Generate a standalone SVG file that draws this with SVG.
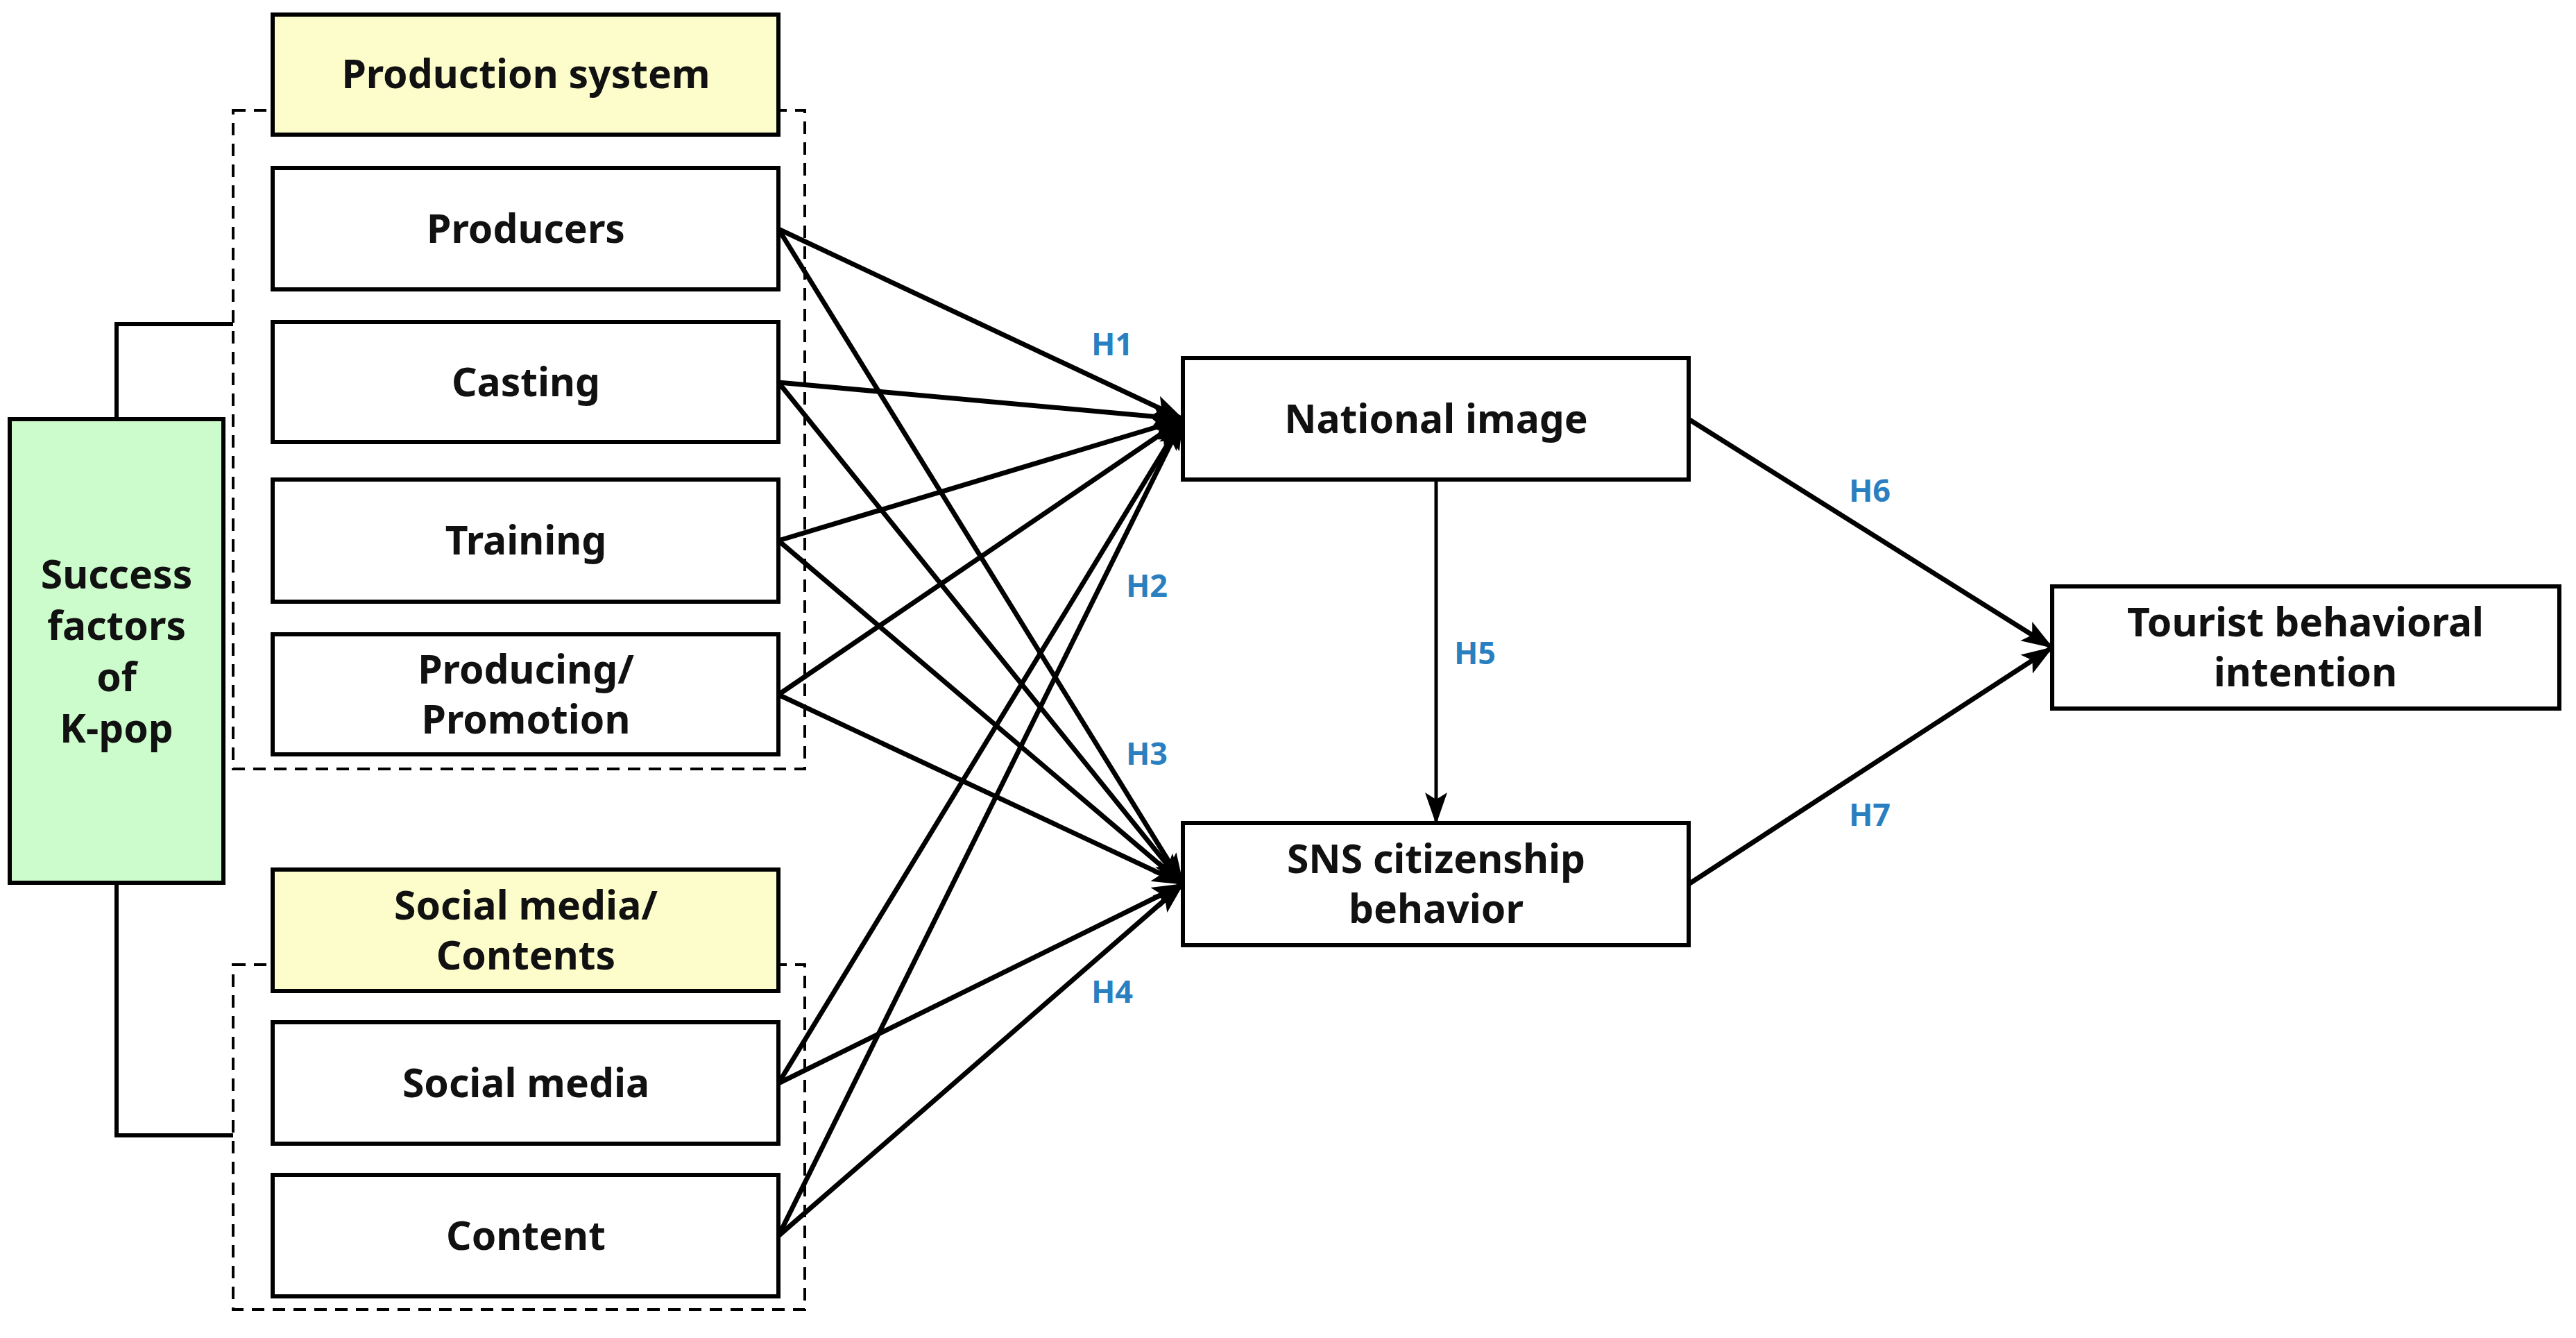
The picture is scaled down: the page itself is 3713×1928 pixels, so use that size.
<svg xmlns="http://www.w3.org/2000/svg" width="3713" height="1928" viewBox="0 0 3713 1928">
<style>
.b{fill:#fff;stroke:#000;stroke-width:6}
.y{fill:#fdfdcc;stroke:#000;stroke-width:6}
.g{fill:#ccfccc;stroke:#000;stroke-width:6}
.d{fill:none;stroke:#000;stroke-width:4;stroke-dasharray:18 12}
text{font-family:"Noto Sans","Liberation Sans",sans-serif;font-weight:bold;font-size:57px;text-anchor:middle;fill:#111}
.h{fill:#2a7fc0;font-size:45px}
.c line{stroke:#000;stroke-width:7}
.c path{fill:none;stroke:#000;stroke-width:6}
</style>
<defs>
<marker id="a" markerUnits="userSpaceOnUse" markerWidth="50" markerHeight="40" refX="44" refY="18" orient="auto" viewBox="0 0 50 36">
<path d="M0,2 L46,18 L0,34 L10,18 Z" fill="#000"/>
</marker>
</defs>
<rect class="d" x="336" y="159" width="824" height="949"/>
<rect class="d" x="336" y="1390" width="824" height="497"/>
<g class="c">
<path d="M336,467 H168 V604 M168,1272 V1636 H336"/>
<line x1="1122" y1="330" x2="1705" y2="604" marker-end="url(#a)"/>
<line x1="1122" y1="551" x2="1705" y2="604" marker-end="url(#a)"/>
<line x1="1122" y1="779" x2="1705" y2="604" marker-end="url(#a)"/>
<line x1="1122" y1="1001" x2="1705" y2="604" marker-end="url(#a)"/>
<line x1="1122" y1="1561" x2="1705" y2="604" marker-end="url(#a)"/>
<line x1="1122" y1="1781" x2="1705" y2="604" marker-end="url(#a)"/>
<line x1="1122" y1="330" x2="1705" y2="1274" marker-end="url(#a)"/>
<line x1="1122" y1="551" x2="1705" y2="1274" marker-end="url(#a)"/>
<line x1="1122" y1="779" x2="1705" y2="1274" marker-end="url(#a)"/>
<line x1="1122" y1="1001" x2="1705" y2="1274" marker-end="url(#a)"/>
<line x1="1122" y1="1561" x2="1705" y2="1274" marker-end="url(#a)"/>
<line x1="1122" y1="1781" x2="1705" y2="1274" marker-end="url(#a)"/>
<line x1="2070" y1="691" x2="2070" y2="1186" style="stroke-width:5" marker-end="url(#a)"/>
<line x1="2434" y1="604" x2="2958" y2="933" marker-end="url(#a)"/>
<line x1="2434" y1="1274" x2="2958" y2="933" marker-end="url(#a)"/>
</g>
<g id="kpop"><rect class="g" x="14" y="604" width="308" height="668"/><text x="168" y="848">Success</text><text x="168" y="922">factors</text><text x="168" y="996">of</text><text x="168" y="1070">K-pop</text></g>
<g id="prodsys"><rect class="y" x="393" y="21" width="729" height="173"/><text x="758" y="127">Production system</text></g>
<g id="producers"><rect class="b" x="393" y="242" width="729" height="175"/><text x="758" y="350">Producers</text></g>
<g id="casting"><rect class="b" x="393" y="464" width="729" height="173"/><text x="758" y="571">Casting</text></g>
<g id="training"><rect class="b" x="393" y="691" width="729" height="176"/><text x="758" y="799">Training</text></g>
<g id="promotion"><rect class="b" x="393" y="914" width="729" height="173"/><text x="758" y="985">Producing/</text><text x="758" y="1057">Promotion</text></g>
<g id="socialcont"><rect class="y" x="393" y="1253" width="729" height="175"/><text x="758" y="1325">Social media/</text><text x="758" y="1397">Contents</text></g>
<g id="social"><rect class="b" x="393" y="1473" width="729" height="175"/><text x="758" y="1581">Social media</text></g>
<g id="content"><rect class="b" x="393" y="1693" width="729" height="175"/><text x="758" y="1801">Content</text></g>
<g id="national"><rect class="b" x="1705" y="516" width="729" height="175"/><text x="2070" y="624">National image</text></g>
<g id="sns"><rect class="b" x="1705" y="1186" width="729" height="176"/><text x="2070" y="1258">SNS citizenship</text><text x="2070" y="1330">behavior</text></g>
<g id="tourist"><rect class="b" x="2958" y="845" width="731" height="176"/><text x="3323" y="917">Tourist behavioral</text><text x="3323" y="989">intention</text></g>
<g id="labels">
<text class="h" x="1603" y="512">H1</text>
<text class="h" x="1653" y="860">H2</text>
<text class="h" x="1653" y="1102">H3</text>
<text class="h" x="1603" y="1445">H4</text>
<text class="h" x="2126" y="957">H5</text>
<text class="h" x="2695" y="723">H6</text>
<text class="h" x="2695" y="1190">H7</text>
</g>
</svg>
